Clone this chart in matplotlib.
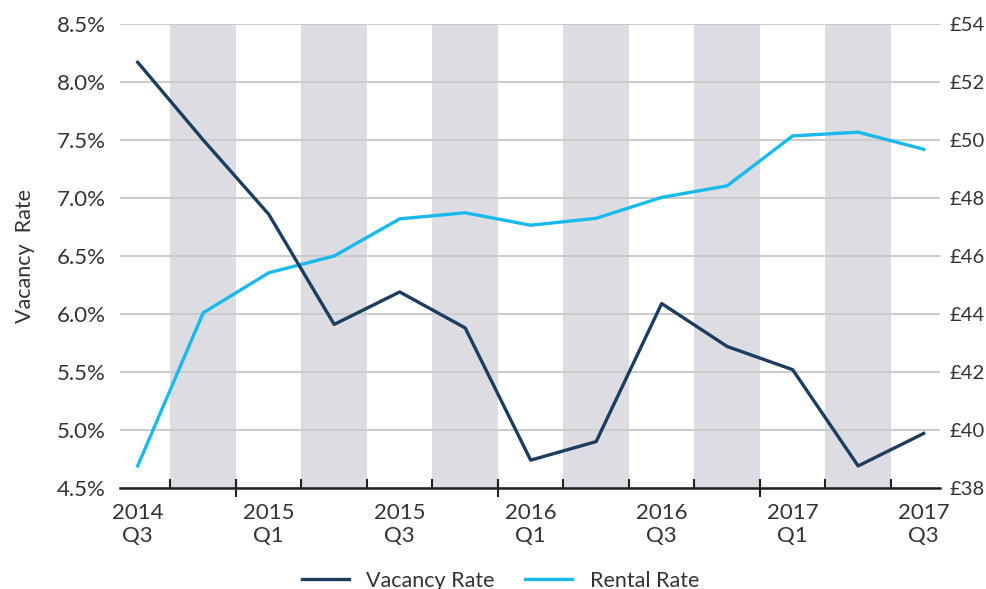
import matplotlib
matplotlib.use('Agg')
import matplotlib.pyplot as plt
from matplotlib.ticker import FuncFormatter

plt.rcParams['font.family'] = ['Lato', 'DejaVu Sans']

QUARTERS = ["2014\nQ3", "2014\nQ4", "2015\nQ1", "2015\nQ2", "2015\nQ3", "2015\nQ4",
            "2016\nQ1", "2016\nQ2", "2016\nQ3", "2016\nQ4", "2017\nQ1", "2017\nQ2", "2017\nQ3"]

VACANCY_RATE = [8.17, 7.50, 6.86, 5.91, 6.19, 5.88, 4.74, 4.90, 6.09, 5.72, 5.52, 4.69, 4.97]
RENTAL_RATE = [38.76, 44.04, 45.42, 46.00, 47.28, 47.49, 47.06, 47.30, 48.02, 48.42, 50.14, 50.27, 49.68]

NAVY = '#1d3d5e'
SKY = '#1ab9ec'
BAND = '#dcdce2'
TEXT = '#333333'

x = list(range(len(QUARTERS)))

fig = plt.figure(figsize=(9.87, 5.89), dpi=100)
ax = fig.add_axes([0.1216, 0.1715, 0.8308, 0.7878])
ax2 = ax.twinx()

# vacancy line sits on top of the rental line
ax.set_zorder(ax2.get_zorder() + 1)
ax.patch.set_visible(False)

# alternating quarter bands, grid and rental line live on the twin
for i in x[1::2]:
    ax2.axvspan(i - 0.5, i + 0.5, color=BAND, lw=0, zorder=0)
ax2.set_axisbelow(True)
ax2.yaxis.grid(True, color='#cccccc', lw=1.5)

ax2.plot(x, RENTAL_RATE, color=SKY, lw=2.4, label='Rental Rate')
ax.plot(x, VACANCY_RATE, color=NAVY, lw=2.4, label='Vacancy Rate')

ax.set_xlim(-0.27, 12.25)
ax.set_ylim(4.5, 8.5)
ax2.set_ylim(38, 54)
ax.set_yticks([4.5 + 0.5 * k for k in range(9)])
ax2.set_yticks([38 + 2 * k for k in range(9)])
ax.yaxis.set_major_formatter(FuncFormatter(lambda v, p: f'{v:.1f}%'))
ax2.yaxis.set_major_formatter(FuncFormatter(lambda v, p: f'£{v:.0f}'))

for a in (ax, ax2):
    for s in a.spines.values():
        s.set_visible(False)
ax.spines['bottom'].set_visible(True)
ax.spines['bottom'].set_color('#222222')
ax.spines['bottom'].set_linewidth(1.8)

ax.tick_params(axis='y', length=0, pad=10, labelsize=16, labelcolor=TEXT)
ax2.tick_params(axis='y', length=0, pad=7, labelsize=14.5, labelcolor=TEXT)

# labelled quarters every half year, short ticks on band edges
ax.set_xticks(x[::2])
ax.set_xticklabels(QUARTERS[::2])
ax.set_xticks([i + 0.5 for i in x[:-1]], minor=True)
ax.tick_params(axis='x', which='major', length=0, pad=11, labelsize=16,
               labelcolor=TEXT)
ax.tick_params(axis='x', which='minor', direction='in', length=6.5,
               width=1.5, color='#222222')
for lab in ax.get_xticklabels():
    lab.set_linespacing(1.15)

# longer ticks at year boundaries
years = ax.secondary_xaxis('bottom')
years.set_xticks([1.5, 5.5, 9.5])
years.set_xticklabels([])
years.spines['bottom'].set_visible(False)
years.tick_params(axis='x', direction='inout', length=13, width=1.5,
                  color='#222222')

ax.set_ylabel('Vacancy  Rate', fontsize=15.5, color=TEXT, labelpad=16)

h1, l1 = ax.get_legend_handles_labels()
h2, l2 = ax2.get_legend_handles_labels()
fig.legend(h1 + h2, l1 + l2, loc='center', bbox_to_anchor=(0.507, 0.014),
           ncol=2, frameon=False, fontsize=15.5, handlelength=2.2,
           columnspacing=1.4, labelcolor=TEXT)

fig.savefig('out.png', dpi=100)
